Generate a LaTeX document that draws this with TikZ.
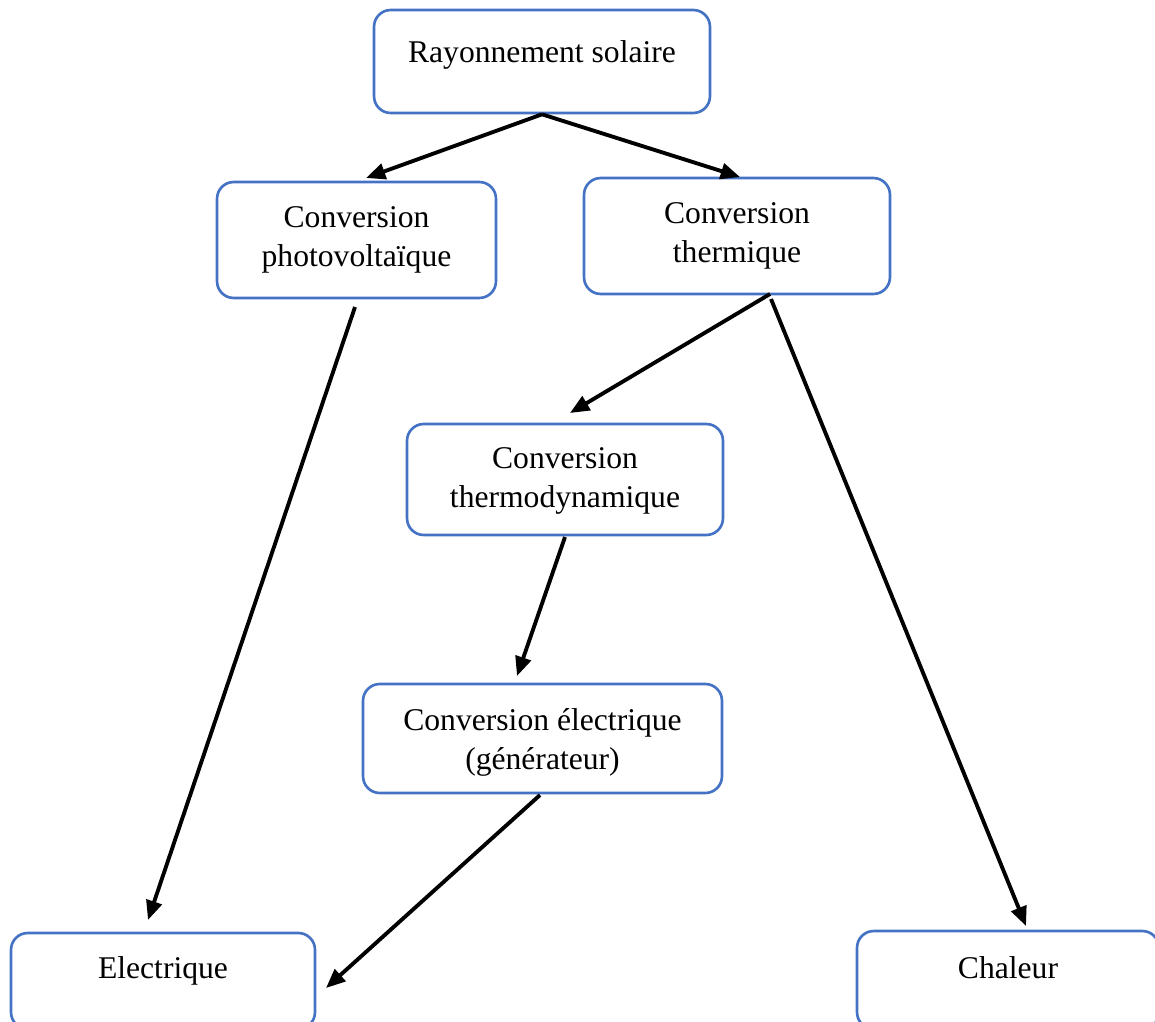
\documentclass[tikz,border=0pt]{standalone}
\usepackage{fontspec}
\setmainfont{Liberation Serif}
\usetikzlibrary{arrows.meta}
\definecolor{boxblue}{HTML}{4472C4}

\begin{document}
\begin{tikzpicture}[
		x=0.02cm, y=-0.02cm,
		box/.style={draw=boxblue, line width=1.5pt, rounded corners=9.5pt, inner sep=0pt},
		txt/.style={anchor=north, inner sep=0pt, align=center, font=\fontsize{18}{22}\selectfont},
		arr/.style={line width=2.2pt, -{Triangle[length=11pt,width=9pt]}}
	]
	\useasboundingbox (0,0) rectangle (1155,1021);
	\clip (0,0) rectangle (1155,1021);

	% boxes
	\node[box, minimum width=6.72cm, minimum height=2.06cm] (ray) at (542,61.5) {};
	\node[box, minimum width=5.58cm, minimum height=2.32cm] (pv) at (356.5,240) {};
	\node[box, minimum width=6.12cm, minimum height=2.32cm] (th) at (737,236) {};
	\node[box, minimum width=6.32cm, minimum height=2.22cm] (tdyn) at (565,479.5) {};
	\node[box, minimum width=7.18cm, minimum height=2.18cm] (gen) at (542.5,738.5) {};
	\node[box, minimum width=6.08cm, minimum height=1.92cm] (elec) at (163,981) {};
	\node[box, minimum width=6.04cm, minimum height=1.96cm] (chal) at (1008,980) {};

	% texts
	\node[txt] (ray-txt) at (542,40) {Rayonnement solaire};
	\node[txt] (pv-txt) at (356.5,206.5) {Conversion\\photovoltaïque};
	\node[txt] (th-txt) at (737,202.5) {Conversion\\thermique};
	\node[txt] (tdyn-txt) at (565,447.5) {Conversion\\thermodynamique};
	\node[txt] (gen-txt) at (542.5,708.5) {Conversion électrique\\(générateur)};
	\node[txt] (elec-txt) at (163,956.5) {Electrique};
	\node[txt] (chal-txt) at (1008,956.5) {Chaleur};

	% free ends of the arrows
	\coordinate (pv-in) at (366,178);
	\coordinate (th-in) at (740,177);
	\coordinate (pv-out) at (355,307);
	\coordinate (th-out) at (770,294);
	\coordinate (th-out2) at (771,299);
	\coordinate (tdyn-in) at (570,413);
	\coordinate (tdyn-out) at (565,537);
	\coordinate (gen-in) at (517,676);
	\coordinate (gen-out) at (540,795);
	\coordinate (elec-in) at (148,920);
	\coordinate (elec-in2) at (326,988);
	\coordinate (chal-in) at (1026,926);

	% arrows
	\draw[arr] (ray.south) -- (pv-in);
	\draw[arr] (ray.south) -- (th-in);
	\draw[arr] (pv-out) -- (elec-in);
	\draw[arr] (th-out) -- (tdyn-in);
	\draw[arr] (th-out2) -- (chal-in);
	\draw[arr] (tdyn-out) -- (gen-in);
	\draw[arr] (gen-out) -- (elec-in2);
\end{tikzpicture}
\end{document}
